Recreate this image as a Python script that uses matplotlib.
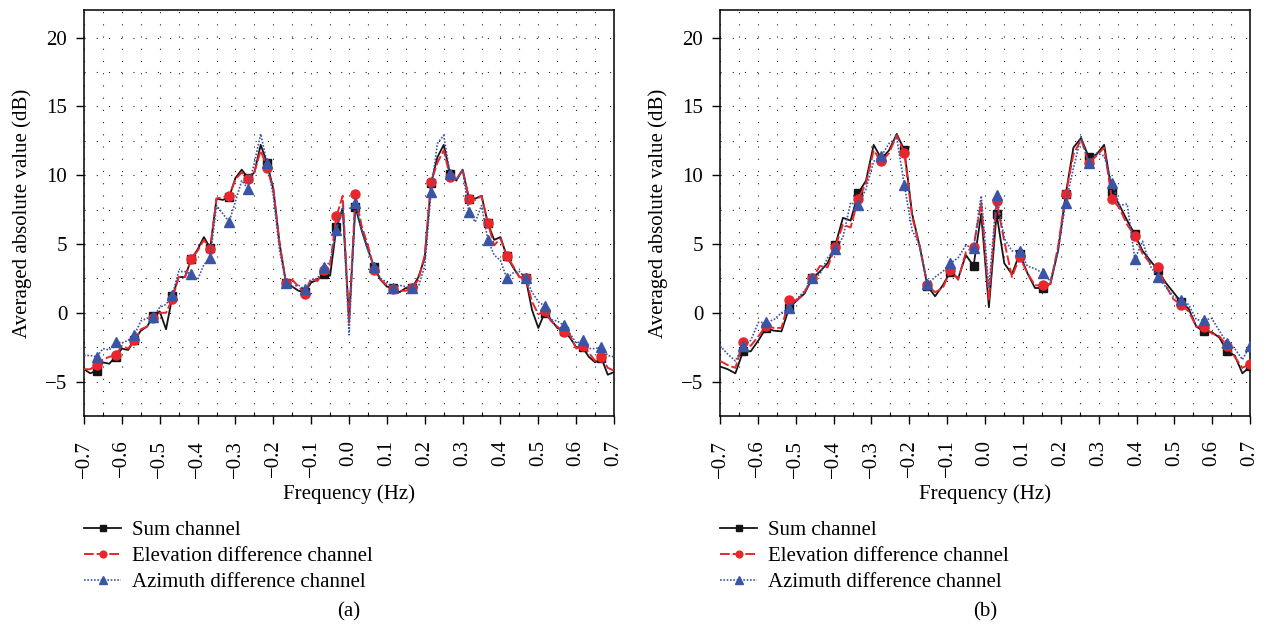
import matplotlib.pyplot as plt
import numpy as np
from matplotlib.ticker import MultipleLocator

plt.rcParams['font.family'] = ['Liberation Serif', 'DejaVu Serif']
plt.rcParams['font.size'] = 15

# Panel (a): 85 frequency bins
freq_a = np.linspace(-0.7, 0.7, 85)
sum_a = [
    -4.1, -4.4, -4.2, -3.6, -3.7, -3.2, -2.6, -2.7, -2.0, -1.3,
    -1.0, -0.2, 0.1, -1.2, 1.2, 2.6, 2.6, 3.9, 4.6, 5.5,
    4.7, 8.3, 8.2, 8.4, 9.8, 10.4, 9.8, 10.2, 12.2, 10.9,
    9.0, 5.0, 2.2, 1.9, 1.6, 1.5, 2.2, 2.4, 2.8, 2.7,
    6.2, 7.6, -0.5, 7.7, 6.0, 4.6, 3.3, 2.4, 1.9, 1.8,
    1.5, 1.8, 1.8, 2.6, 4.0, 9.4, 11.3, 12.2, 10.1, 9.6,
    10.4, 8.3, 8.3, 8.5, 6.5, 5.3, 5.5, 4.1, 3.3, 2.6,
    2.5, 0.2, -1.1, 0.0, -0.5, -1.1, -1.3, -1.8, -2.5, -2.5,
    -3.2, -3.6, -3.3, -4.5, -4.3,
]
elev_a = [
    -4.1, -4.1, -3.8, -3.4, -3.2, -3.1, -2.4, -2.6, -2.0, -1.2,
    -1.0, -0.4, 0.0, 0.0, 1.0, 2.6, 2.6, 3.9, 4.5, 5.3,
    4.6, 8.3, 8.4, 8.5, 9.7, 10.2, 9.7, 10.2, 11.8, 10.5,
    9.0, 5.0, 2.2, 2.4, 1.9, 1.4, 2.5, 2.3, 3.1, 3.5,
    7.0, 8.5, -0.8, 8.6, 6.3, 4.9, 3.1, 2.4, 2.0, 1.7,
    1.6, 1.6, 1.8, 2.4, 4.2, 9.5, 10.9, 11.8, 9.9, 9.7,
    10.4, 8.3, 8.2, 8.5, 6.5, 4.9, 5.4, 4.15, 3.4, 2.6,
    2.5, 0.8, -0.1, 0.1, -0.6, -1.0, -1.4, -1.6, -2.6, -2.4,
    -2.9, -3.5, -3.2, -4.0, -4.2,
]
azim_a = [
    -3.1, -3.1, -3.2, -2.6, -2.7, -2.1, -2.2, -2.0, -1.6, -0.6,
    -0.4, -0.3, 0.4, 0.6, 1.3, 3.0, 3.0, 2.8, 2.4, 3.5,
    4.0, 7.8, 7.2, 6.6, 8.1, 9.6, 9.0, 10.9, 13.0, 10.9,
    8.5, 4.5, 2.2, 1.9, 2.0, 1.7, 2.4, 2.5, 3.3, 3.7,
    6.0, 7.8, -1.6, 8.0, 6.0, 4.5, 3.3, 2.5, 2.2, 1.8,
    2.0, 1.9, 1.8, 1.9, 3.4, 8.8, 12.3, 12.9, 10.1, 9.6,
    10.4, 7.3, 6.6, 7.8, 5.3, 4.2, 3.8, 2.5, 2.9, 3.0,
    2.5, 1.5, 0.8, 0.5, -0.5, -0.6, -0.9, -1.5, -2.2, -2.0,
    -2.6, -2.6, -2.5, -3.1, -3.2,
]
marks_a = list(range(2, 39, 3)) + [40] + list(range(43, 83, 3))

# Panel (b): 70 frequency bins
freq_b = np.linspace(-0.7, 0.7, 70)
sum_b = [
    -3.9, -4.1, -4.4, -2.8, -2.8, -2.0, -1.1, -1.3, -1.35, 0.36,
    0.9, 1.4, 2.5, 3.0, 3.6, 4.9, 6.9, 6.7, 8.7, 9.6,
    12.2, 11.2, 11.8, 13.0, 11.8, 7.2, 4.8, 1.95, 1.2, 2.0,
    3.0, 2.5, 4.2, 3.4, 7.2, 0.4, 7.2, 3.6, 2.8, 4.3,
    2.9, 1.8, 1.8, 2.1, 4.5, 8.6, 12.0, 12.7, 11.3, 11.5,
    12.2, 8.8, 7.8, 6.7, 5.7, 4.5, 3.8, 3.1, 2.2, 1.5,
    0.8, 0.3, -1.0, -1.35, -1.4, -1.8, -2.8, -3.1, -4.4, -3.9,
]
elev_b = [
    -3.5, -3.8, -4.0, -2.15, -2.4, -1.7, -0.95, -1.1, -1.1, 0.94,
    0.9, 1.5, 2.5, 3.4, 3.3, 4.8, 6.4, 6.2, 8.3, 9.4,
    11.8, 11.0, 11.6, 12.9, 11.6, 7.0, 4.8, 2.0, 1.5, 1.8,
    3.1, 2.4, 4.4, 4.8, 8.0, 0.9, 8.1, 5.2, 2.6, 4.05,
    2.9, 2.0, 2.0, 2.1, 4.8, 8.6, 11.5, 12.6, 10.9, 11.4,
    12.0, 8.3, 7.6, 6.4, 5.6, 4.3, 3.6, 3.3, 2.0, 1.0,
    0.58, 0.1, -1.0, -1.0, -1.5, -1.7, -2.4, -3.2, -4.0, -3.7,
]
azim_b = [
    -2.4, -3.0, -3.5, -2.4, -2.0, -0.7, -0.7, -0.5, 0.0, 0.35,
    1.0, 1.6, 2.5, 2.8, 4.0, 4.6, 5.5, 8.0, 7.8, 9.0,
    11.0, 11.4, 12.3, 12.7, 9.25, 6.0, 4.9, 2.1, 2.6, 3.0,
    3.6, 4.0, 4.9, 4.7, 8.5, 1.8, 8.55, 5.4, 4.5, 4.5,
    3.4, 3.2, 2.9, 2.3, 4.5, 8.0, 10.5, 12.8, 10.9, 11.6,
    11.4, 9.45, 7.8, 7.9, 3.9, 5.2, 3.4, 2.6, 1.9, 1.2,
    0.9, 0.6, -0.5, -0.55, -0.4, -1.3, -2.2, -2.6, -3.4, -2.4,
]
marks_b = slice(3, None, 3)

xticks = [-0.7, -0.6, -0.5, -0.4, -0.3, -0.2, -0.1, 0.0,
          0.1, 0.2, 0.3, 0.4, 0.5, 0.6, 0.7]
labels = ['Sum channel', 'Elevation difference channel',
          'Azimuth difference channel']
BLACK = '#141414'
RED = '#e8262b'
BLUE = '#3a55a5'


def tick_text(v):
    # unicode minus, and no sign on zero
    return '{:.1f}'.format(v + 0.0).replace('-', '\u2212')


def draw_panel(ax, freq, s, e, a, marks, tag):
    ax.plot(freq, s, color=BLACK, lw=1.3, marker='s', ms=5.5,
            markevery=marks, label=labels[0], zorder=3)
    ax.plot(freq, e, color=RED, lw=1.4, ls=(0, (5, 1.5)), marker='o',
            ms=6.5, markevery=marks, label=labels[1], zorder=4)
    ax.plot(freq, a, color=BLUE, lw=1.2, ls=(0, (1, 1)), marker='^',
            ms=7, markevery=marks, label=labels[2], zorder=5)

    ax.set_xlim(-0.7, 0.7)
    ax.set_ylim(-7.5, 22)
    ax.set_xticks(xticks)
    ax.set_xticklabels([tick_text(v) for v in xticks], rotation=90)
    ax.xaxis.set_minor_locator(MultipleLocator(0.05))
    ax.yaxis.set_major_locator(MultipleLocator(5))
    ax.yaxis.set_minor_locator(MultipleLocator(2.5))
    ax.tick_params(axis='x', which='major', direction='out', length=6,
                   width=1, pad=11)
    ax.tick_params(axis='y', which='major', direction='out', length=6,
                   width=1, pad=6)
    ax.tick_params(which='minor', direction='in', length=3, width=0.8)
    ax.tick_params(axis='y', which='minor', length=0)
    ax.grid(True, which='both', color='#222222', lw=0.8, ls=(0, (1, 10)))
    for sp in ax.spines.values():
        sp.set_linewidth(1.1)

    ax.set_xlabel('Frequency (Hz)')
    ax.xaxis.set_label_coords(0.5, -0.168)
    ax.set_ylabel('Averaged absolute value (dB)')
    ax.yaxis.set_label_coords(-0.099, 0.5)

    ax.legend(loc='upper left', bbox_to_anchor=(0.0, -0.258), frameon=False,
              borderpad=0, borderaxespad=0, handlelength=1.78,
              handletextpad=0.51, labelspacing=0.3, markerscale=0.75)
    ax.text(0.5, -0.483, tag, transform=ax.transAxes, ha='center',
            va='center')


fig = plt.figure(figsize=(12.69, 6.29), dpi=100)
ax_a = fig.add_axes([0.0662, 0.3386, 0.4177, 0.6455])
ax_b = fig.add_axes([0.5674, 0.3386, 0.4177, 0.6455])

draw_panel(ax_a, freq_a, sum_a, elev_a, azim_a, marks_a, '(a)')
draw_panel(ax_b, freq_b, sum_b, elev_b, azim_b, marks_b, '(b)')

fig.savefig('out.png', dpi=100)
